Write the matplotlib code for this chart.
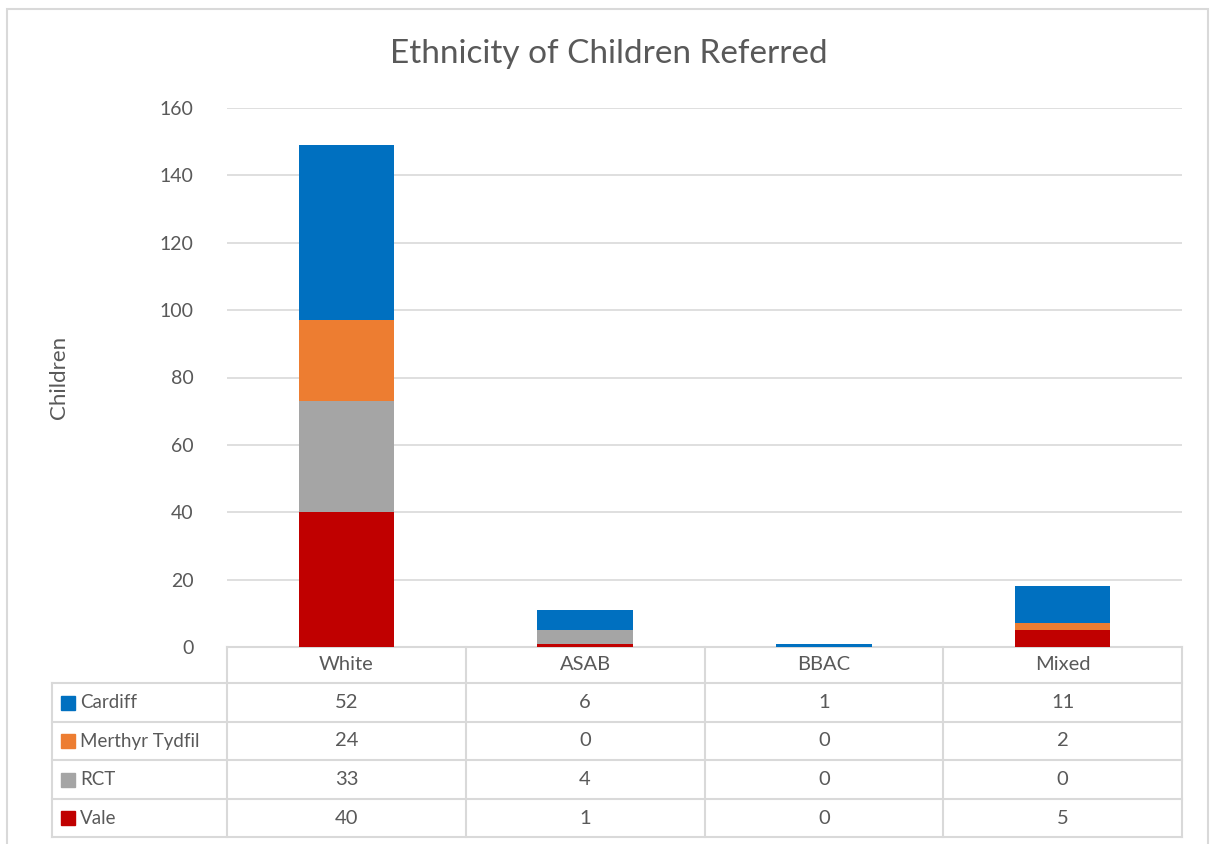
import matplotlib.pyplot as plt
from matplotlib.patches import Rectangle
from matplotlib.lines import Line2D

plt.rcParams['font.family'] = ['Lato', 'DejaVu Sans']

categorias = ["White", "ASAB", "BBAC", "Mixed"]
series = ["Vale", "RCT", "Merthyr Tydfil", "Cardiff"]
vale = [40, 1, 0, 5]
rct = [33, 4, 0, 0]
merthyr = [24, 0, 0, 2]
cardiff = [52, 6, 1, 11]
cores = ["#C00000", "#A5A5A5", "#ED7D31", "#0070C0"]

texto = "#595959"
linha = "#d9d9d9"

W, H = 1210, 844
fig = plt.figure(figsize=(W / 100, H / 100), dpi=100)

# moldura do gráfico
fig.add_artist(Rectangle((7 / W, -0.01), (W - 9) / W, (H - 9) / H + 0.01,
                         transform=fig.transFigure, fill=False,
                         edgecolor=linha, linewidth=1.5))

# área de plotagem (em pixels do original)
x0, x1, ytop, ybot = 227, 1182, 108, 647
ax = fig.add_axes([x0 / W, (H - ybot) / H, (x1 - x0) / W, (ybot - ytop) / H])

valores = [vale, rct, merthyr, cardiff]
base = [0] * len(categorias)
for nome, v, c in zip(series, valores, cores):
    ax.bar(range(len(categorias)), v, 0.4, bottom=base, color=c, label=nome, zorder=3)
    base = [b + x for b, x in zip(base, v)]

ax.set_xlim(-0.5, len(categorias) - 0.5)
ax.set_ylim(0, 160)
ax.set_yticks(range(0, 161, 20))
ax.set_xticks([])
ax.tick_params(axis='y', length=0, pad=24, labelsize=14, labelcolor=texto)
ax.grid(axis='y', color=linha, linewidth=1.2, zorder=0)
for s in ax.spines.values():
    s.set_visible(False)

ax.set_ylabel("Children", fontsize=16, color=texto, labelpad=0)
ax.yaxis.set_label_coords(-158 / (x1 - x0), 0.5)

fig.text(609 / W, 1 - 54 / H, "Ethnicity of Children Referred",
         ha='center', va='center', fontsize=24, color=texto)

# tabela de dados
pw, ph = x1 - x0, ybot - ytop
linhas_y = [647, 683, 722, 760, 799, 837]
ty = [-(y - ybot) / ph for y in linhas_y]
tx_esq = -(x0 - 52) / pw
n = len(categorias)
cols = [i / n for i in range(n + 1)]
tr = ax.transAxes

def seg(xa, xb, ya, yb):
    ax.add_line(Line2D([xa, xb], [ya, yb], transform=tr, color=linha,
                       linewidth=1.5, clip_on=False))

seg(0, 1, ty[0], ty[0])
for y in ty[1:]:
    seg(tx_esq, 1, y, y)
for c in cols:
    seg(c, c, ty[0], ty[-1])
seg(tx_esq, tx_esq, ty[1], ty[-1])

for i, cat in enumerate(categorias):
    ax.text((cols[i] + cols[i + 1]) / 2, (ty[0] + ty[1]) / 2, cat, transform=tr,
            ha='center', va='center', fontsize=14.5, color=texto)

ordem = list(range(len(series)))[::-1]
for r, k in enumerate(ordem):
    yc = (ty[r + 1] + ty[r + 2]) / 2
    sq = 14 / pw
    ax.add_patch(Rectangle((tx_esq + 9 / pw, yc - 7 / ph), sq, 14 / ph, transform=tr,
                           color=cores[k], clip_on=False))
    ax.text(tx_esq + 28 / pw, yc, series[k], transform=tr, ha='left', va='center',
            fontsize=13.5, color=texto)
    for i in range(n):
        ax.text((cols[i] + cols[i + 1]) / 2, yc, str(valores[k][i]), transform=tr,
                ha='center', va='center', fontsize=14.5, color=texto)

fig.savefig("out.png", dpi=100)
